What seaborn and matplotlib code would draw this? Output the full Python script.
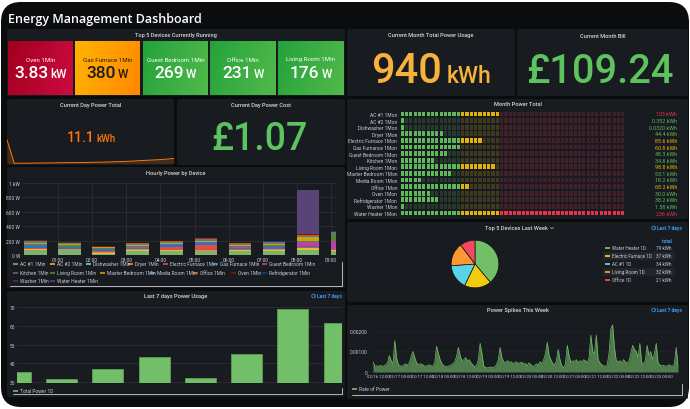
import matplotlib
matplotlib.use("Agg")
import matplotlib.dates as mdates
import numpy as np
import pandas as pd
import seaborn as sns
from matplotlib import pyplot as plt
from matplotlib.colors import LinearSegmentedColormap, to_rgb
from matplotlib.patches import Circle, FancyBboxPatch, Rectangle

sns.set_theme(style="dark")
plt.rcParams["font.family"] = ["Roboto", "DejaVu Sans"]

# ---- data ----
running_devices = ["Oven 1Min", "Gas Furnace 1Min", "Guest Bedroom 1Min", "Office 1Min", "Living Room 1Min"]
running_watts = [3830, 380, 269, 231, 176]

month_usage_kwh = 940
month_bill_gbp = 109.24
day_total_kwh = 11.1
day_cost_gbp = 1.07
day_total_trend = [2.6, 0.02, 0.03, 0.03, 0.05, 0.06, 0.06, 0.08, 0.09, 0.1, 0.1, 0.12,
                   0.14, 0.15, 0.17, 0.2, 0.22, 0.25, 0.3, 0.34, 0.38, 0.42, 0.48, 0.55]

gauge_devices = ["AC #1 1Mon", "AC #2 1Mon", "Dishwasher 1Mon", "Dryer 1Mon",
                 "Electric Furnace 1Mon", "Gas Furnance 1Mon", "Guest Bedroom 1Mon",
                 "Kitchen 1Mon", "Living Room 1Mon", "Master Bedroom 1Mon",
                 "Media Room 1Mon", "Office 1Mon", "Oven 1Mon", "Refridgerator 1Mon",
                 "Washer 1Mon", "Water Heater 1Mon"]
gauge_kwh = [103, 0.352, 0.0320, 44.4, 85.6, 60.8, 48.3, 34.8, 98.8, 53.1, 18.2, 68.2,
             30.0, 38.2, 1.58, 236]

hours = ["00:00", "01:00", "02:00", "03:00", "04:00", "05:00", "06:00", "07:00", "08:00", "09:00"]
hourly_devices = ["AC #1", "AC #2", "Dishwasher", "Dryer", "Electric Furnace", "Gas Furnace",
                  "Guest Bedroom", "Kitchen", "Living Room", "Master Bedroom", "Media Room",
                  "Office", "Oven", "Refridgerator", "Washer", "Water Heater"]
hourly_watts = [
    [70, 65, 20, 60, 60, 55, 60, 60, 65, 60],   # AC #1
    [8, 8, 10, 8, 6, 5, 6, 6, 30, 5],           # AC #2
    [2, 2, 2, 2, 2, 2, 2, 2, 2, 2],             # Dishwasher
    [10, 5, 12, 8, 8, 10, 8, 10, 5, 5],         # Dryer
    [6, 5, 5, 6, 40, 60, 5, 8, 10, 5],          # Electric Furnace
    [25, 20, 28, 15, 20, 30, 20, 22, 8, 8],     # Gas Furnace
    [8, 8, 5, 8, 8, 10, 8, 8, 55, 110],         # Guest Bedroom
    [3, 3, 3, 3, 3, 3, 3, 3, 3, 3],             # Kitchen
    [15, 18, 10, 15, 10, 12, 15, 15, 10, 90],   # Living Room
    [15, 14, 10, 12, 12, 12, 12, 20, 60, 10],   # Master Bedroom
    [20, 10, 8, 12, 10, 12, 14, 14, 10, 8],     # Media Room
    [15, 8, 5, 12, 12, 10, 10, 12, 25, 15],     # Office
    [2, 2, 1, 2, 1, 1, 1, 1, 2, 1],             # Oven
    [8, 6, 3, 6, 6, 6, 5, 7, 5, 6],             # Refridgerator
    [1, 1, 1, 1, 1, 1, 1, 1, 1, 1],             # Washer
    [2, 1, 1, 1, 1, 1, 0, 1, 609, 1],           # Water Heater
]
hourly_colors = ["#7EB26D", "#EAB839", "#6ED0E0", "#EF843C", "#E24D42", "#1F78C1",
                 "#BA43A9", "#705DA0", "#508642", "#CCA300", "#447EBC", "#C15C17",
                 "#890F02", "#0A437C", "#6D1F62", "#584477"]

week_devices = ["Water Heater 1D", "Electric Furnace 1D", "AC #1 1D", "Living Room 1D", "Office 1D"]
week_kwh = [79, 37, 34, 32, 21]
week_colors = ["#73BF69", "#F2CC0C", "#5AD3E8", "#FF9830", "#F2495C"]

day_labels = ["02/16", "02/17", "02/18", "02/19", "02/20", "02/21", "02/22", "02/23"]
day_kwh = [35.3, 31.7, 37.0, 43.2, 32.2, 45.2, 69.2, 61.3]

# rate of power, hourly from 02/16 09:00, in units of 1e-5
spike_rate_e5 = [
    50, 28, 30, 27, 32, 28, 30, 35, 45, 80,
    55, 40, 153, 70, 35, 30, 28, 35, 40, 32,
    45, 75, 100, 70, 45, 35, 40, 38, 30, 28,
    32, 35, 30, 28, 45, 125, 90, 60, 40, 30,
    28, 25, 30, 35, 40, 50, 75, 120, 80, 55,
    60, 70, 55, 60, 45, 35, 25, 30, 60, 140,
    90, 30, 22, 20, 22, 25, 20, 25, 35, 60,
    120, 70, 50, 45, 55, 48, 50, 42, 45, 50,
    40, 45, 48, 38, 42, 30, 45, 35, 28, 30,
    40, 35, 50, 40, 60, 90, 145, 80, 60, 40,
    35, 55, 110, 60, 30, 20, 40, 130, 80, 45,
    55, 50, 60, 45, 55, 50, 60, 55, 45, 70,
    180, 100, 90, 180, 60, 45, 35, 30, 28, 35,
    90, 210, 230, 120, 55, 50, 55, 45, 60, 50,
    40, 55, 90, 130, 110, 100, 70, 140, 45, 40,
    55, 130, 80, 100, 60, 90, 140, 45, 35, 30,
    32, 28, 30, 35, 30, 28, 40, 120, 30,
]

# ---- style ----
W, H = 690, 410
BG = "#0b0c0e"
PANEL = "#181b1f"
TXT = "#d8d9da"
TICK = "#c7d0d9"
GRID = "#2a2d33"
BLUE = "#3b9cf0"
GREEN = "#5cc35f"
SMALL = 3.5


def px_rect(x0, y0, x1, y1):
    return [x0 / W, 1 - y1 / H, (x1 - x0) / W, (y1 - y0) / H]


fig = plt.figure(figsize=(6.9, 4.1), dpi=100, facecolor="white")
renderer = fig.canvas.get_renderer()

bg = fig.add_axes([0, 0, 1, 1], zorder=0)
bg.set_xlim(0, W)
bg.set_ylim(H, 0)
bg.set_autoscale_on(False)
bg.axis("off")
bg.add_patch(FancyBboxPatch((1, 3), 688, 405, boxstyle="round,pad=0,rounding_size=20",
                            fc=BG, ec="none"))

ov = fig.add_axes([0, 0, 1, 1], zorder=5)
ov.set_xlim(0, W)
ov.set_ylim(H, 0)
ov.set_autoscale_on(False)
ov.axis("off")
ov.patch.set_alpha(0)


def panel(x0, y0, x1, y1, title=None, ty=None):
    bg.add_patch(FancyBboxPatch((x0, y0), x1 - x0, y1 - y0,
                                boxstyle="round,pad=0,rounding_size=2", fc=PANEL, ec="none"))
    if title:
        return ov.text((x0 + x1) / 2, ty if ty else y0 + 6, title, fontsize=4.1,
                       color=TXT, ha="center", va="center", weight="medium")


def stat(cx, base, num, unit, size, usize, color, gap=2.5):
    t1 = ov.text(cx, base, num, fontsize=size, color=color, ha="left", va="baseline",
                 weight="medium")
    t2 = ov.text(cx, base, unit, fontsize=usize, color=color, ha="left", va="baseline",
                 weight="medium")
    w1 = t1.get_window_extent(renderer).width
    w2 = t2.get_window_extent(renderer).width
    x0 = cx - (w1 + gap + w2) / 2
    t1.set_x(x0)
    t2.set_x(x0 + w1 + gap)


def last7(xr, y):
    t = ov.text(xr, y, "Last 7 days", fontsize=SMALL, color=BLUE, ha="right", va="center",
                weight="bold")
    w = t.get_window_extent(renderer).width
    cx = xr - w - 3.5
    ov.add_patch(Circle((cx, y), 1.9, fc="none", ec=BLUE, lw=0.5))
    ov.plot([cx, cx, cx + 1.1], [y - 1.2, y, y], color=BLUE, lw=0.4)


def legend_item(x, y, color, label):
    ov.plot([x, x + 5], [y, y], color=color, lw=1.2, solid_capstyle="butt")
    ov.text(x + 7, y, label, fontsize=SMALL, color=TICK, va="center", ha="left")


def scroll_box(x0, x1, ytop, ybot):
    ov.plot([x0, x1], [ybot, ybot], color="#d0d0d0", lw=0.6)
    ov.plot([x1, x1], [ytop, ybot], color="#d0d0d0", lw=0.6)


def style_ax(ax):
    ax.set_facecolor("none")
    for s in ax.spines.values():
        s.set_visible(False)
    ax.tick_params(length=0, labelsize=SMALL, colors=TICK, pad=1.5)
    ax.set_xlabel("")
    ax.set_ylabel("")


# ---- title ----
ov.text(8, 19, "Energy Management Dashboard", fontsize=9, color="white", weight="semibold",
        ha="left", va="center", family=["Open Sans", "DejaVu Sans"])

# ---- top 5 running ----
panel(7, 30, 345, 97, "Top 5 Devices Currently Running", 36)
tile_x = [(8, 73), (75, 140), (143, 208), (210, 276), (278, 344)]
grad = np.linspace(0, 1, 60)[None, :] * 0.8 + np.linspace(0, 0.2, 20)[:, None]
for (x0, x1), name, watts in zip(tile_x, running_devices, running_watts):
    if watts >= 1000:
        c1, c2, fg = "#a3001f", "#cc0b40", "white"
        num, unit = f"{watts / 1000:.2f}", "kW"
    elif watts >= 300:
        c1, c2, fg = "#ffb300", "#ff8800", "#1c1c1c"
        num, unit = f"{watts}", "W"
    else:
        c1, c2, fg = "#24a33b", "#52b94b", "white"
        num, unit = f"{watts}", "W"
    cmap = LinearSegmentedColormap.from_list("t", [c1, c2])
    bg.imshow(grad, extent=(x0, x1, 96, 42), cmap=cmap, aspect="auto", zorder=2)
    ov.text((x0 + x1) / 2, 60, name, fontsize=4.4, color=fg, ha="center", va="center")
    stat((x0 + x1) / 2, 78.3, num, unit, 12.5, 8.5, fg, gap=2)

# ---- month usage / bill ----
panel(347, 30, 515, 97, "Current Month Total Power Usage", 36)
stat(431, 83, f"{month_usage_kwh}", "kWh", 30, 16.5, "#f7b23b", gap=5)
panel(517, 30, 688, 97, "Current Month Bill", 36)
ov.text(600, 83, f"£{month_bill_gbp:.2f}", fontsize=28.5, color=GREEN, ha="center",
        va="baseline", weight="medium")

# ---- current day ----
panel(7, 100, 174, 166, "Current Day Power Total", 105)
ax_sp = fig.add_axes(px_rect(7, 128, 174, 164.5), zorder=1)
xs = np.arange(len(day_total_trend))
ax_sp.fill_between(xs, day_total_trend, color="#FF780A", alpha=0.18, lw=0)
ax_sp.plot(xs, day_total_trend, color="#FF780A", lw=0.7)
ax_sp.set_xlim(0, len(day_total_trend) - 1)
ax_sp.set_ylim(0, 4)
ax_sp.axis("off")
stat(91, 142.3, f"{day_total_kwh}", "kWh", 10, 7, "#FF780A", gap=2)

panel(177, 100, 345, 166, "Current Day Power Cost", 105)
ov.text(259, 150, f"£{day_cost_gbp:.2f}", fontsize=27, color=GREEN, ha="center",
        va="baseline", weight="medium")

# ---- month power total (bar gauge) ----
panel(347, 100, 688, 220, "Month Power Total", 105)
ax_g = fig.add_axes(px_rect(400, 111.7, 625, 217.3), zorder=1)
n_cells = 52
gmax = max(gauge_kwh)
pbg = np.array(to_rgb(PANEL))


def thr_color(v):
    if v >= 100:
        return "#e8304f"
    if v >= 60:
        return "#e6b20a"
    return "#5fb85a"


cx_list, cy_list, cc_list = [], [], []
for r, v in enumerate(gauge_kwh):
    for i in range(n_cells):
        start = i * gmax / n_cells
        base = np.array(to_rgb(thr_color(start)))
        col = base if start < v else 0.2 * base + 0.8 * pbg
        cx_list.append(i)
        cy_list.append(r)
        cc_list.append(tuple(col))
ax_g.bar(cx_list, 0.74, bottom=np.array(cy_list) - 0.37, width=0.74, color=cc_list, lw=0)
ax_g.set_xlim(-0.5, n_cells - 0.5)
ax_g.set_ylim(len(gauge_kwh) - 0.5, -0.5)
ax_g.set_xticks([])
ax_g.set_yticks(range(len(gauge_devices)), gauge_devices)
style_ax(ax_g)
ax_g.tick_params(axis="y", pad=2)
for r, v in enumerate(gauge_kwh):
    s = np.format_float_positional(v, precision=3, unique=False, fractional=False, trim="k").rstrip(".")
    ax_g.text((677 - 400) / 225, r, f"{s} kWh", transform=ax_g.get_yaxis_transform(),
              ha="right", va="center", fontsize=3.9, color=thr_color(v))

# ---- hourly power by device ----
panel(7, 168, 345, 289, "Hourly Power by Device", 173.5)
ax_h = fig.add_axes(px_rect(22, 184, 336, 256), zorder=1)
hx = np.arange(len(hours))
bottom = np.zeros(len(hours))
for name, vals, col in zip(hourly_devices, hourly_watts, hourly_colors):
    ax_h.bar(hx, vals, width=0.66, bottom=bottom, align="edge", color=col, lw=0, zorder=2)
    bottom += np.array(vals)
ax_h.set_xlim(-0.06, 9.15)
ax_h.set_ylim(0, 1000)
ax_h.set_yticks([0, 200, 400, 600, 800, 1000], ["0 W", "200 W", "400 W", "600 W", "800 W", "1 kW"])
ax_h.set_xticks(hx[1:], hours[1:])
ax_h.grid(True, color=GRID, lw=0.6)
ax_h.set_axisbelow(True)
style_ax(ax_h)
rows = [
    (264.5, [13, 50, 86, 128, 163, 213, 262]),
    (273.5, [13, 50, 100, 150, 193, 231, 262]),
    (282.0, [13, 50]),
]
k = 0
for y, xs_row in rows:
    for x in xs_row:
        legend_item(x, y, hourly_colors[k], f"{hourly_devices[k]} 1Min")
        k += 1
scroll_box(10, 342, 263, 286.7)

# ---- top 5 devices last week (pie) ----
panel(347, 223, 688, 303)
t = ov.text(516, 229, "Top 5 Devices Last Week", fontsize=4.1, color=TXT, ha="center",
            va="center", weight="medium")
tw = t.get_window_extent(renderer).width
vx = 516 + tw / 2 + 3
ov.plot([vx, vx + 1.5, vx + 3], [228.3, 229.8, 228.3], color=TXT, lw=0.4)
last7(682, 229)
ax_p = fig.add_axes(px_rect(450, 240, 500, 290), zorder=1)
ax_p.pie(week_kwh, colors=week_colors, startangle=90, counterclock=False,
         wedgeprops=dict(edgecolor="#101114", linewidth=0.5))
ax_p.set_xlim(-1.05, 1.05)
ax_p.set_ylim(-1.05, 1.05)
ax_p.set_aspect("equal")
ax_p.axis("off")
ov.text(667, 242, "total", fontsize=SMALL, color=BLUE, ha="center", va="center", weight="bold")
for i, (name, v, col) in enumerate(zip(week_devices, week_kwh, week_colors)):
    y = 249 + 8 * i
    if i % 2 == 1:
        ov.add_patch(Rectangle((603, y - 3.8), 72, 7.6, fc="#22252b", ec="none"))
    ov.plot([605, 610], [y, y], color=col, lw=1.3, solid_capstyle="butt")
    ov.text(612.5, y, name, fontsize=3.3, color=TICK, ha="left", va="center")
    ov.text(672, y, f"{v} kWh", fontsize=3.3, color=TICK, ha="right", va="center")

# ---- last 7 days power usage ----
panel(7, 292, 345, 398, "Last 7 days Power Usage", 297)
last7(342, 297)
ax_d = fig.add_axes(px_rect(17, 305, 342, 384), zorder=1)
sns.barplot(x=day_labels, y=day_kwh, color="#73BF69", saturation=1, width=0.67,
            edgecolor="#5e9e55", linewidth=0.6, errorbar=None, ax=ax_d)
ax_d.set_xlim(0.04, 7.06)
ax_d.set_ylim(29.5, 71.6)
ax_d.set_yticks([30, 40, 50, 60, 70])
ax_d.set_xticks([])
style_ax(ax_d)
ax_d.grid(True, axis="y", color=GRID, lw=0.6)
ax_d.set_axisbelow(True)
legend_item(13, 392, "#73BF69", "Total Power 1D")
scroll_box(13, 342, 389, 395)

# ---- power spikes ----
panel(347, 306, 688, 400, "Power Spikes This Week", 311)
last7(682, 311)
ax_s = fig.add_axes(px_rect(373, 324, 678, 373), zorder=1)
times = pd.date_range("2024-02-16 09:00", periods=len(spike_rate_e5), freq="h")
rate = np.array(spike_rate_e5) * 1e-5
ax_s.fill_between(times, rate, color="#73BF69", alpha=0.6, lw=0)
sns.lineplot(x=times, y=rate, color="#73BF69", lw=0.5, ax=ax_s)
ax_s.set_xlim(times[0], times[-1])
ax_s.set_ylim(0, 0.00239)
ax_s.set_yticks([0, 0.001, 0.002], ["0", "0.00100", "0.00200"])
ax_s.xaxis.set_major_locator(mdates.HourLocator(byhour=[0, 12]))
ax_s.xaxis.set_major_formatter(mdates.DateFormatter("%m/%d %H:%M"))
style_ax(ax_s)
ax_s.tick_params(axis="x", labelsize=3.1)
ax_s.tick_params(axis="y", pad=4)
ax_s.grid(True, axis="y", color="#212329", lw=0.5)
ax_s.set_axisbelow(True)
legend_item(352, 390, "#73BF69", "Rate of Power")
scroll_box(352, 682, 385, 396)

fig.savefig("out.png", dpi=100, facecolor="white")
